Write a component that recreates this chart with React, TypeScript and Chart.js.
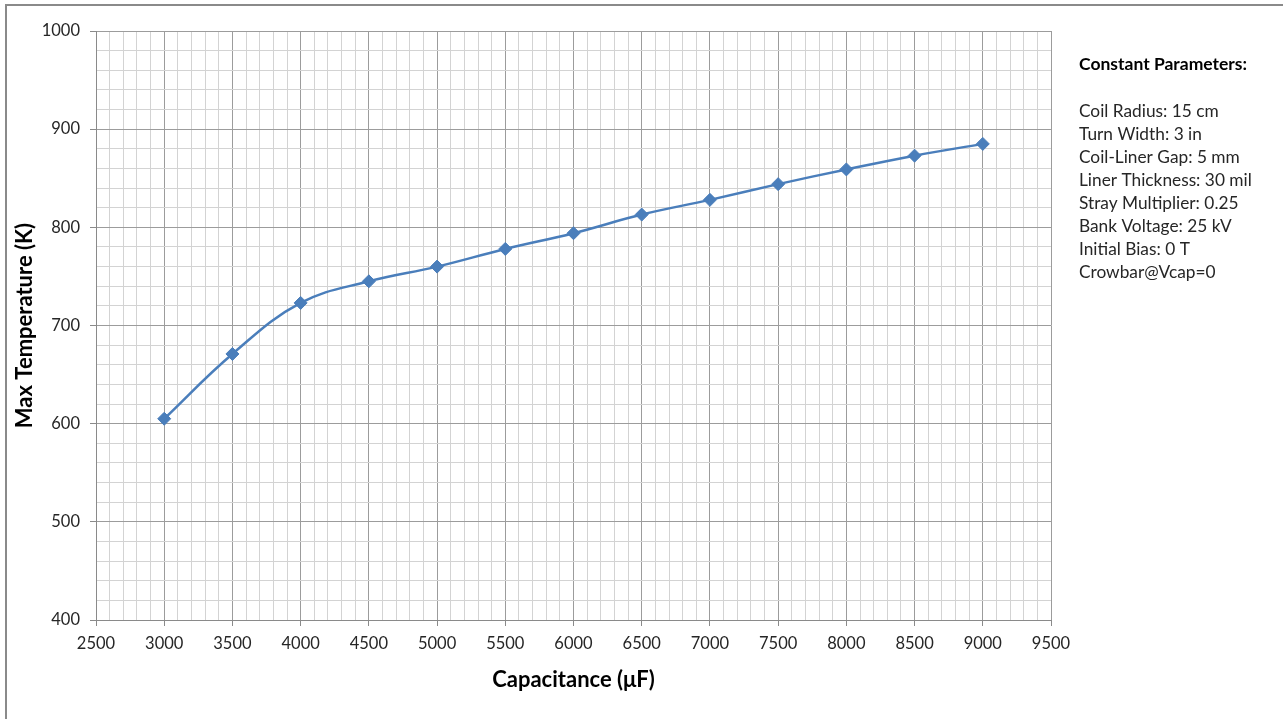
import React, { useEffect, useRef } from "react";
import { Chart, registerables } from "chart.js";

Chart.register(...registerables);

const capacitance = [3000, 3500, 4000, 4500, 5000, 5500, 6000, 6500, 7000, 7500, 8000, 8500, 9000];
const maxTemperature = [605, 671, 723, 745, 760, 778, 794, 813, 828, 844, 859, 873, 885];

const xTitle = "Capacitance (μF)";
const yTitle = "Max Temperature (K)";
const paramsTitle = "Constant Parameters:";
const paramsLines = [
  "Coil Radius: 15 cm",
  "Turn Width: 3 in",
  "Coil-Liner Gap: 5 mm",
  "Liner Thickness: 30 mil",
  "Stray Multiplier: 0.25",
  "Bank Voltage: 25 kV",
  "Initial Bias: 0 T",
  "Crowbar@Vcap=0",
];

const FONT = "Lato, 'Open Sans', sans-serif";
const MAJOR = "#9c9c9c";
const MINOR = "#d3d3d3";
const TEXT = "#262626";

const decorPlugin = {
  id: "decor",
  beforeDraw(chart: any) {
    const ctx = chart.ctx;
    ctx.save();
    ctx.fillStyle = "#ffffff";
    ctx.fillRect(0, 0, chart.width, chart.height);
    ctx.restore();
  },
  afterDraw(chart: any) {
    const ctx = chart.ctx;
    ctx.save();
    // outer frame
    ctx.strokeStyle = "#8a8a8a";
    ctx.lineWidth = 2;
    ctx.beginPath();
    ctx.moveTo(6, chart.height);
    ctx.lineTo(6, 5);
    ctx.lineTo(chart.width, 5);
    ctx.stroke();
    // parameters text
    ctx.fillStyle = "#000000";
    ctx.textBaseline = "middle";
    ctx.textAlign = "left";
    ctx.font = `bold 17.5px ${FONT}`;
    ctx.fillText(paramsTitle, 1079, 64);
    ctx.fillStyle = TEXT;
    ctx.font = `17.3px ${FONT}`;
    paramsLines.forEach((t, i) => ctx.fillText(t, 1079, 111 + i * 23));
    ctx.restore();
  },
};

export default function App() {
  const ref = useRef<HTMLCanvasElement | null>(null);
  useEffect(() => {
    if (!ref.current) return;
    const chart = new Chart(ref.current, {
      type: "line",
      data: {
        datasets: [
          {
            data: capacitance.map((c, i) => ({ x: c, y: maxTemperature[i] })),
            borderColor: "#4a7ebb",
            backgroundColor: "#4a7ebb",
            borderWidth: 2.5,
            pointStyle: "rectRot",
            pointRadius: 6.5,
            pointBackgroundColor: "#4a7ebb",
            pointBorderColor: "#4a7ebb",
            pointBorderWidth: 1,
            tension: 0.4,
            fill: false,
          },
        ],
      },
      options: {
        responsive: false,
        animation: false,
        layout: { padding: { top: 31, right: 232, left: 0, bottom: 0 } },
        plugins: { legend: { display: false }, tooltip: { enabled: false } },
        scales: {
          x: {
            type: "linear",
            min: 2500,
            max: 9500,
            afterFit: (s: any) => {
              s.height = 99;
            },
            ticks: {
              stepSize: 100,
              maxTicksLimit: 200,
              autoSkip: false,
              maxRotation: 0,
              padding: 8,
              color: TEXT,
              font: { family: FONT, size: 16.5 },
              callback: (v: any) => (Math.round(v) % 500 === 0 ? String(Math.round(v)) : ""),
            },
            grid: {
              color: (c: any) => (c.tick && Math.round(c.tick.value) % 500 === 0 ? MAJOR : MINOR),
              tickColor: (c: any) => (c.tick && Math.round(c.tick.value) % 500 === 0 ? "#8a8a8a" : "rgba(0,0,0,0)"),
              tickLength: 6,
              lineWidth: 1,
            },
            border: { color: "#8a8a8a", width: 1 },
            title: {
              display: true,
              text: xTitle,
              color: "#000000",
              font: { family: FONT, size: 22, weight: "bold" },
              padding: { top: 0, bottom: 26 },
            },
          },
          y: {
            type: "linear",
            min: 400,
            max: 1000,
            afterFit: (s: any) => {
              s.width = 96;
            },
            ticks: {
              stepSize: 20,
              maxTicksLimit: 200,
              autoSkip: false,
              padding: 10,
              color: TEXT,
              font: { family: FONT, size: 16.5 },
              callback: (v: any) => (Math.round(v) % 100 === 0 ? String(Math.round(v)) : ""),
            },
            grid: {
              color: (c: any) => (c.tick && Math.round(c.tick.value) % 100 === 0 ? MAJOR : MINOR),
              tickColor: (c: any) => (c.tick && Math.round(c.tick.value) % 100 === 0 ? "#8a8a8a" : "rgba(0,0,0,0)"),
              tickLength: 6,
              lineWidth: 1,
            },
            border: { color: "#8a8a8a", width: 1 },
            title: {
              display: true,
              text: yTitle,
              color: "#000000",
              font: { family: FONT, size: 22, weight: "bold" },
              padding: { top: 12, bottom: 0 },
            },
          },
        },
      },
      plugins: [decorPlugin],
    } as any);
    return () => chart.destroy();
  }, []);
  return (
    <div style={{ position: "absolute", left: 0, top: 0, width: 1283, height: 719 }}>
      <canvas ref={ref} width={1283} height={719} style={{ width: 1283, height: 719, display: "block" }} />
    </div>
  );
}
